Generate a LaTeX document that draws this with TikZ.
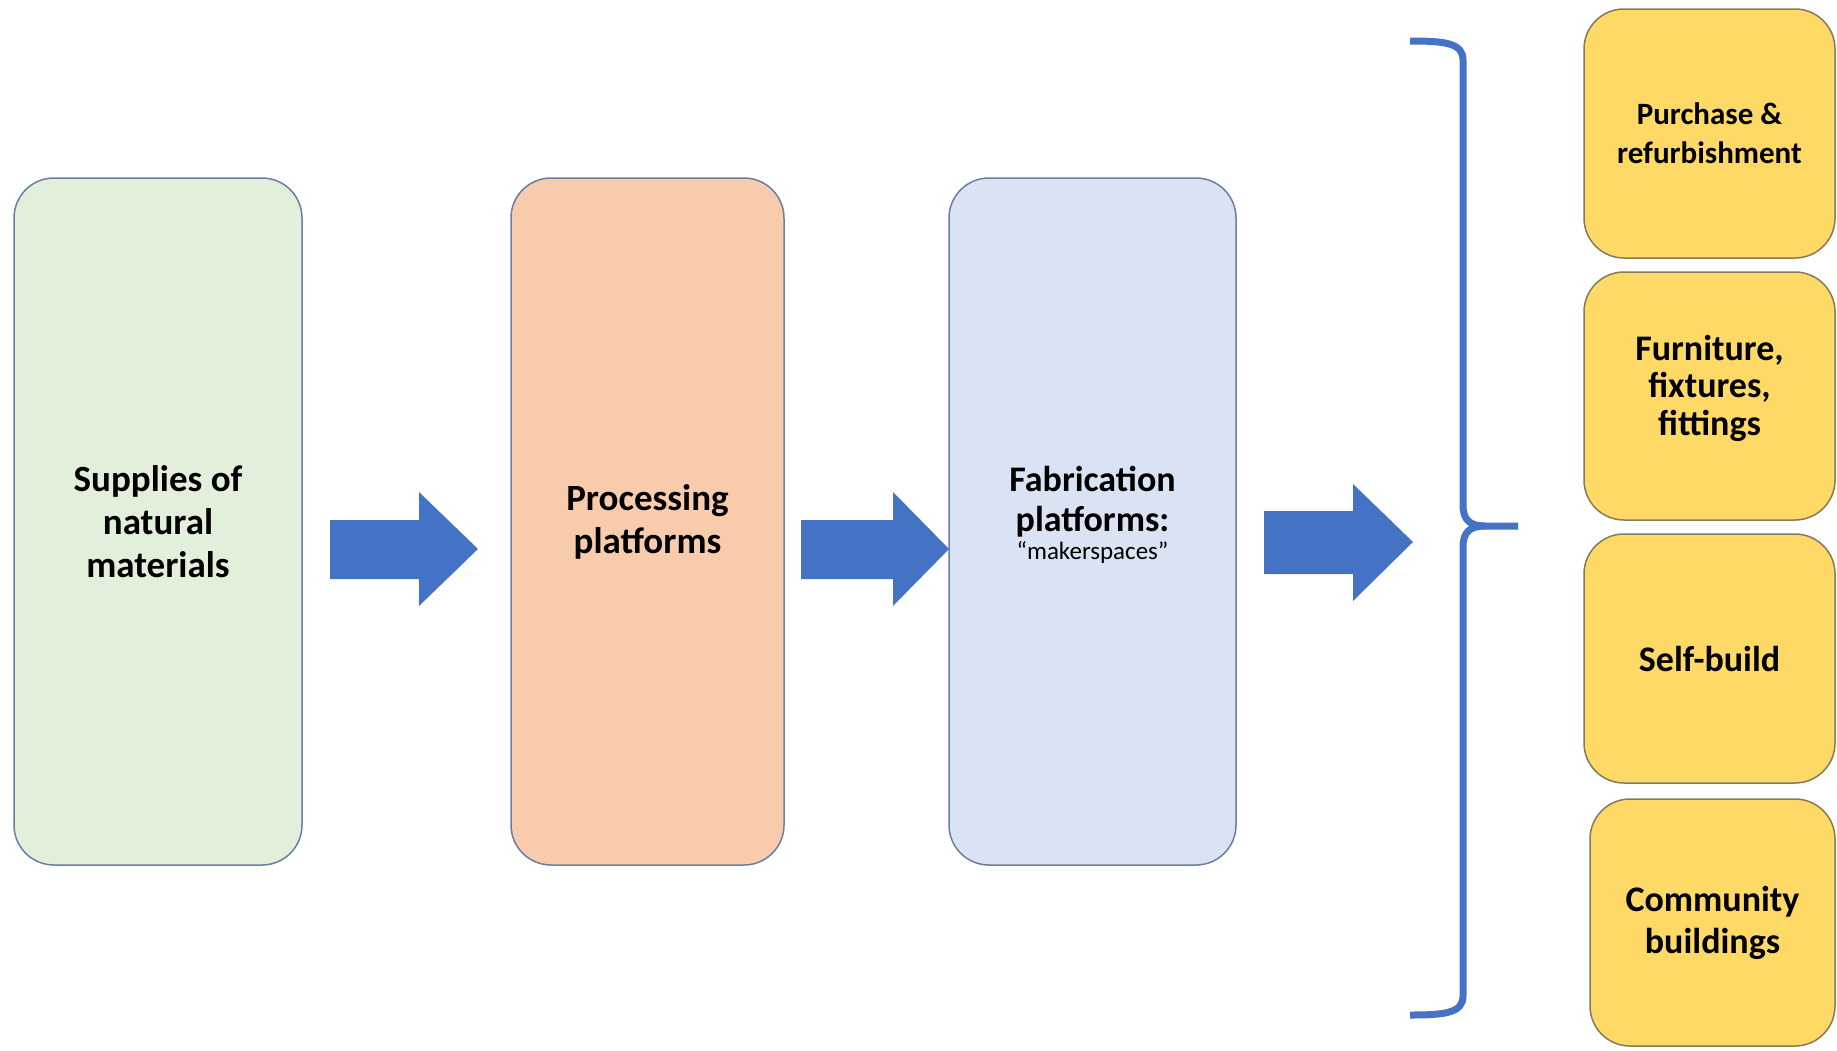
\documentclass[tikz,border=0pt]{standalone}
\usepackage{fontspec}
\setmainfont{Carlito}
\definecolor{greenfill}{HTML}{E2EFDA}
\definecolor{orangefill}{HTML}{F8CBAD}
\definecolor{bluefill}{HTML}{DAE3F3}
\definecolor{yellowfill}{HTML}{FFD966}
\definecolor{boxline}{HTML}{6B7FA3}
\definecolor{yline}{HTML}{857A5C}
\definecolor{arrowblue}{HTML}{4472C4}
\begin{document}
\begin{tikzpicture}[x=1pt,y=-1pt,
  bigbox/.style={draw=boxline,line width=1.5pt,rounded corners=40pt,align=center,
    font=\fontsize{37}{43}\selectfont\bfseries,inner sep=0pt},
  ybox/.style={draw=yline,fill=yellowfill,line width=1.5pt,rounded corners=40pt,align=center,
    inner sep=0pt},
  blockarrow/.style={fill=arrowblue,draw=none},
  bracestyle/.style={draw=arrowblue,line width=7pt}]
\useasboundingbox (0,0) rectangle (1837,1050);
\fill[white] (0,0) rectangle (1837,1050);
% main boxes
\node[bigbox,fill=greenfill,minimum width=288pt,minimum height=687pt] (sup) at (158,521.5)
  {Supplies of\\natural\\materials};
\node[bigbox,fill=orangefill,minimum width=273pt,minimum height=687pt] (proc) at (647.5,521.5)
  {Processing\\platforms};
\node[bigbox,fill=bluefill,minimum width=287pt,minimum height=687pt] (fab) at (1092.5,521.5) {};
\node[align=center,font=\fontsize{36}{40}\selectfont\bfseries] (fabt) at (1092.5,502)
  {Fabrication\\platforms:};
\node[font=\fontsize{25}{28}\selectfont,anchor=north] (mk) at ([yshift=3pt]fabt.south) {“makerspaces”};
% yellow boxes
\node[ybox,minimum width=251pt,minimum height=249pt,font=\fontsize{31}{39}\selectfont\bfseries] (y1) at (1709.5,133.5)
  {Purchase \&\\refurbishment};
\node[ybox,minimum width=251pt,minimum height=248pt] (y2) at (1709.5,396) {};
\node[align=center,font=\fontsize{36}{37.5}\selectfont\bfseries] (y2t) at ([yshift=8pt]y2.center)
  {Furniture,\\fixtures,\\fittings};
\node[ybox,minimum width=251pt,minimum height=249pt,font=\fontsize{36}{40}\selectfont\bfseries] (y3) at (1709.5,658.5)
  {Self-build};
\node[ybox,minimum width=245pt,minimum height=247pt,font=\fontsize{36}{42}\selectfont\bfseries] (y4) at (1712.5,922.5)
  {Community\\buildings};
% block arrows
\fill[blockarrow] (330,520) -- (419,520) -- (419,492) -- (478,549) -- (419,606) -- (419,579) -- (330,579) -- cycle;
\fill[blockarrow] (801,520) -- (893,520) -- (893,492) -- (949,549) -- (893,606) -- (893,579) -- (801,579) -- cycle;
\fill[blockarrow] (1264,511) -- (1353,511) -- (1353,484) -- (1413,542) -- (1353,601) -- (1353,574) -- (1264,574) -- cycle;
% brace
\coordinate (btop) at (1410,41);
\coordinate (bmid) at (1518,526);
\coordinate (bbot) at (1410,1015);
\draw[bracestyle] (btop) .. controls (1445,41) and (1463,43) .. (1463,60) -- (1463,505)
  .. controls (1463,520) and (1470,526) .. (1485,526) -- (bmid);
\draw[bracestyle] (bbot) .. controls (1445,1015) and (1463,1013) .. (1463,996) -- (1463,547)
  .. controls (1463,532) and (1470,526) .. (1485,526);
\end{tikzpicture}
\end{document}
